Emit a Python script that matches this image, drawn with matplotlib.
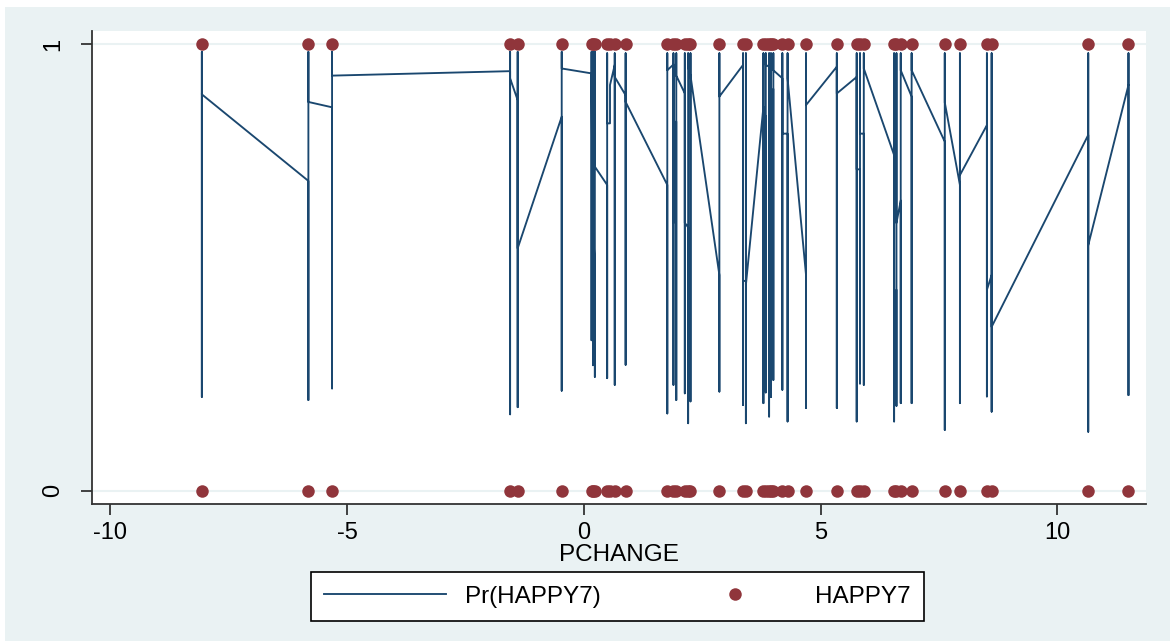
"""
Predicted Pr(HAPPY7) against PCHANGE with observed HAPPY7 (Stata s2color look).
"""

import numpy as np
import matplotlib
matplotlib.use("Agg")
import matplotlib.pyplot as plt
from matplotlib.lines import Line2D
from matplotlib.patches import Rectangle

plt.rcParams["font.family"] = ["Liberation Sans", "DejaVu Sans"]

GRAPH_BG = "#eaf2f3"
NAVY     = "#1a476f"
MAROON   = "#90353b"
GRID_COL = "#eaf2f3"
AXIS_COL = "#333333"

# unique PCHANGE values; at each one the prediction line enters, spans
# low..high over the observations, and leaves at the exit value
PCHANGE  = [-8.07, -5.82, -5.32, -1.56, -1.40, -0.47, 0.16, 0.19, 0.23, 0.49,
            0.55, 0.65, 0.88, 1.76, 1.89, 1.95, 2.13, 2.20, 2.25, 2.86,
            3.36, 3.42, 3.79, 3.84, 3.91, 3.95, 4.00, 4.19, 4.30, 4.69,
            5.34, 5.76, 5.83, 5.91, 6.55, 6.60, 6.69, 6.92, 7.62, 7.94,
            8.51, 8.61, 10.65, 11.50]
PR_ENTRY = [0.888, 0.694, 0.859, 0.940, 0.875, 0.838, 0.935, 0.400, 0.500, 0.685,
            0.823, 0.954, 0.886, 0.685, 0.955, 0.827, 0.890, 0.590, 0.930, 0.483,
            0.954, 0.470, 0.860, 0.840, 0.950, 0.830, 0.900, 0.924, 0.800, 0.483,
            0.950, 0.927, 0.720, 0.800, 0.752, 0.450, 0.650, 0.883, 0.782, 0.685,
            0.819, 0.483, 0.797, 0.909]
PR_LOW   = [0.210, 0.203, 0.229, 0.171, 0.187, 0.224, 0.337, 0.281, 0.255, 0.252,
            0.823, 0.237, 0.282, 0.173, 0.237, 0.203, 0.218, 0.151, 0.200, 0.222,
            0.192, 0.151, 0.196, 0.220, 0.166, 0.210, 0.248, 0.226, 0.155, 0.185,
            0.185, 0.155, 0.240, 0.237, 0.155, 0.190, 0.196, 0.196, 0.136, 0.196,
            0.211, 0.177, 0.132, 0.214]
PR_HIGH  = [0.983, 0.983, 0.983, 0.983, 0.983, 0.983, 0.983, 0.983, 0.983, 0.980,
            0.909, 0.980, 0.980, 0.980, 0.980, 0.980, 0.980, 0.980, 0.980, 0.980,
            0.980, 0.980, 0.980, 0.980, 0.980, 0.980, 0.980, 0.980, 0.980, 0.980,
            0.980, 0.980, 0.980, 0.980, 0.980, 0.980, 0.980, 0.980, 0.980, 0.980,
            0.980, 0.980, 0.980, 0.980]
PR_EXIT  = [0.888, 0.871, 0.930, 0.924, 0.543, 0.946, 0.950, 0.600, 0.726, 0.823,
            0.909, 0.927, 0.871, 0.942, 0.600, 0.930, 0.600, 0.950, 0.930, 0.883,
            0.470, 0.461, 0.840, 0.954, 0.830, 0.830, 0.942, 0.800, 0.924, 0.864,
            0.890, 0.720, 0.800, 0.946, 0.350, 0.600, 0.942, 0.942, 0.870, 0.707,
            0.450, 0.367, 0.550, 0.909]
HAPPY7_LEVELS = [0, 1]

# ── build the sorted prediction path ─────────────────────────────────────────
line_x = np.repeat(PCHANGE, 4)
line_y = np.column_stack([PR_ENTRY, PR_LOW, PR_HIGH, PR_EXIT]).ravel()

dot_x = np.concatenate([PCHANGE for _ in HAPPY7_LEVELS])
dot_y = np.concatenate([[lv] * len(PCHANGE) for lv in HAPPY7_LEVELS])

# ── plot ─────────────────────────────────────────────────────────────────────
W, H = 1170, 641
fig = plt.figure(figsize=(W / 100, H / 100), dpi=100, facecolor="white")
fig.patches.append(Rectangle((5 / W, 0), 1, 1 - 7 / H, transform=fig.transFigure,
                             facecolor=GRAPH_BG, edgecolor="none", zorder=-10))

ax = fig.add_axes([92 / W, 1 - 504 / H, (1146 - 92) / W, (504 - 31) / H])
ax.set_facecolor("white")

ax.plot(line_x, line_y, color=NAVY, linewidth=1.35, zorder=3)
ax.plot(dot_x, dot_y, linestyle="none", marker="o", markersize=9,
        markerfacecolor=MAROON, markeredgewidth=0, zorder=4)

ax.set_xlim(-10.39, 11.87)
ax.set_ylim(-0.030, 1.030)
ax.set_xticks([-10, -5, 0, 5, 10])
ax.set_xticklabels(["-10", "-5", "0", "5", "10"], fontsize=17)
ax.set_yticks([0, 1])
ax.set_yticklabels(["0", "1"], fontsize=17, rotation=90, va="center")
ax.grid(axis="y", color=GRID_COL, linewidth=1.5, zorder=0)
ax.set_axisbelow(True)

for side in ["top", "right"]:
    ax.spines[side].set_visible(False)
for side in ["left", "bottom"]:
    ax.spines[side].set_color(AXIS_COL)
    ax.spines[side].set_linewidth(1.3)
ax.tick_params(axis="both", color=AXIS_COL, width=1.3, length=8, pad=5)
ax.tick_params(axis="y", pad=12)

ax.set_xlabel("PCHANGE", fontsize=17.5, labelpad=0)

handles = [
    Line2D([], [], color=NAVY, linewidth=1.35),
    Line2D([], [], linestyle="none", marker="o", markersize=9,
           markerfacecolor=MAROON, markeredgewidth=0),
]
leg = fig.legend(handles, ["Pr(HAPPY7)", "HAPPY7"], ncol=2,
                 loc="center", bbox_to_anchor=(617.5 / W, 1 - 596.7 / H),
                 fontsize=17.5, handlelength=5.0, handletextpad=0.8,
                 columnspacing=3.0, borderpad=0.55, borderaxespad=0,
                 fancybox=False, framealpha=1, edgecolor="black")
leg.get_frame().set_linewidth(1.2)

fig.savefig("out.png", dpi=100, facecolor="white")
plt.close(fig)
